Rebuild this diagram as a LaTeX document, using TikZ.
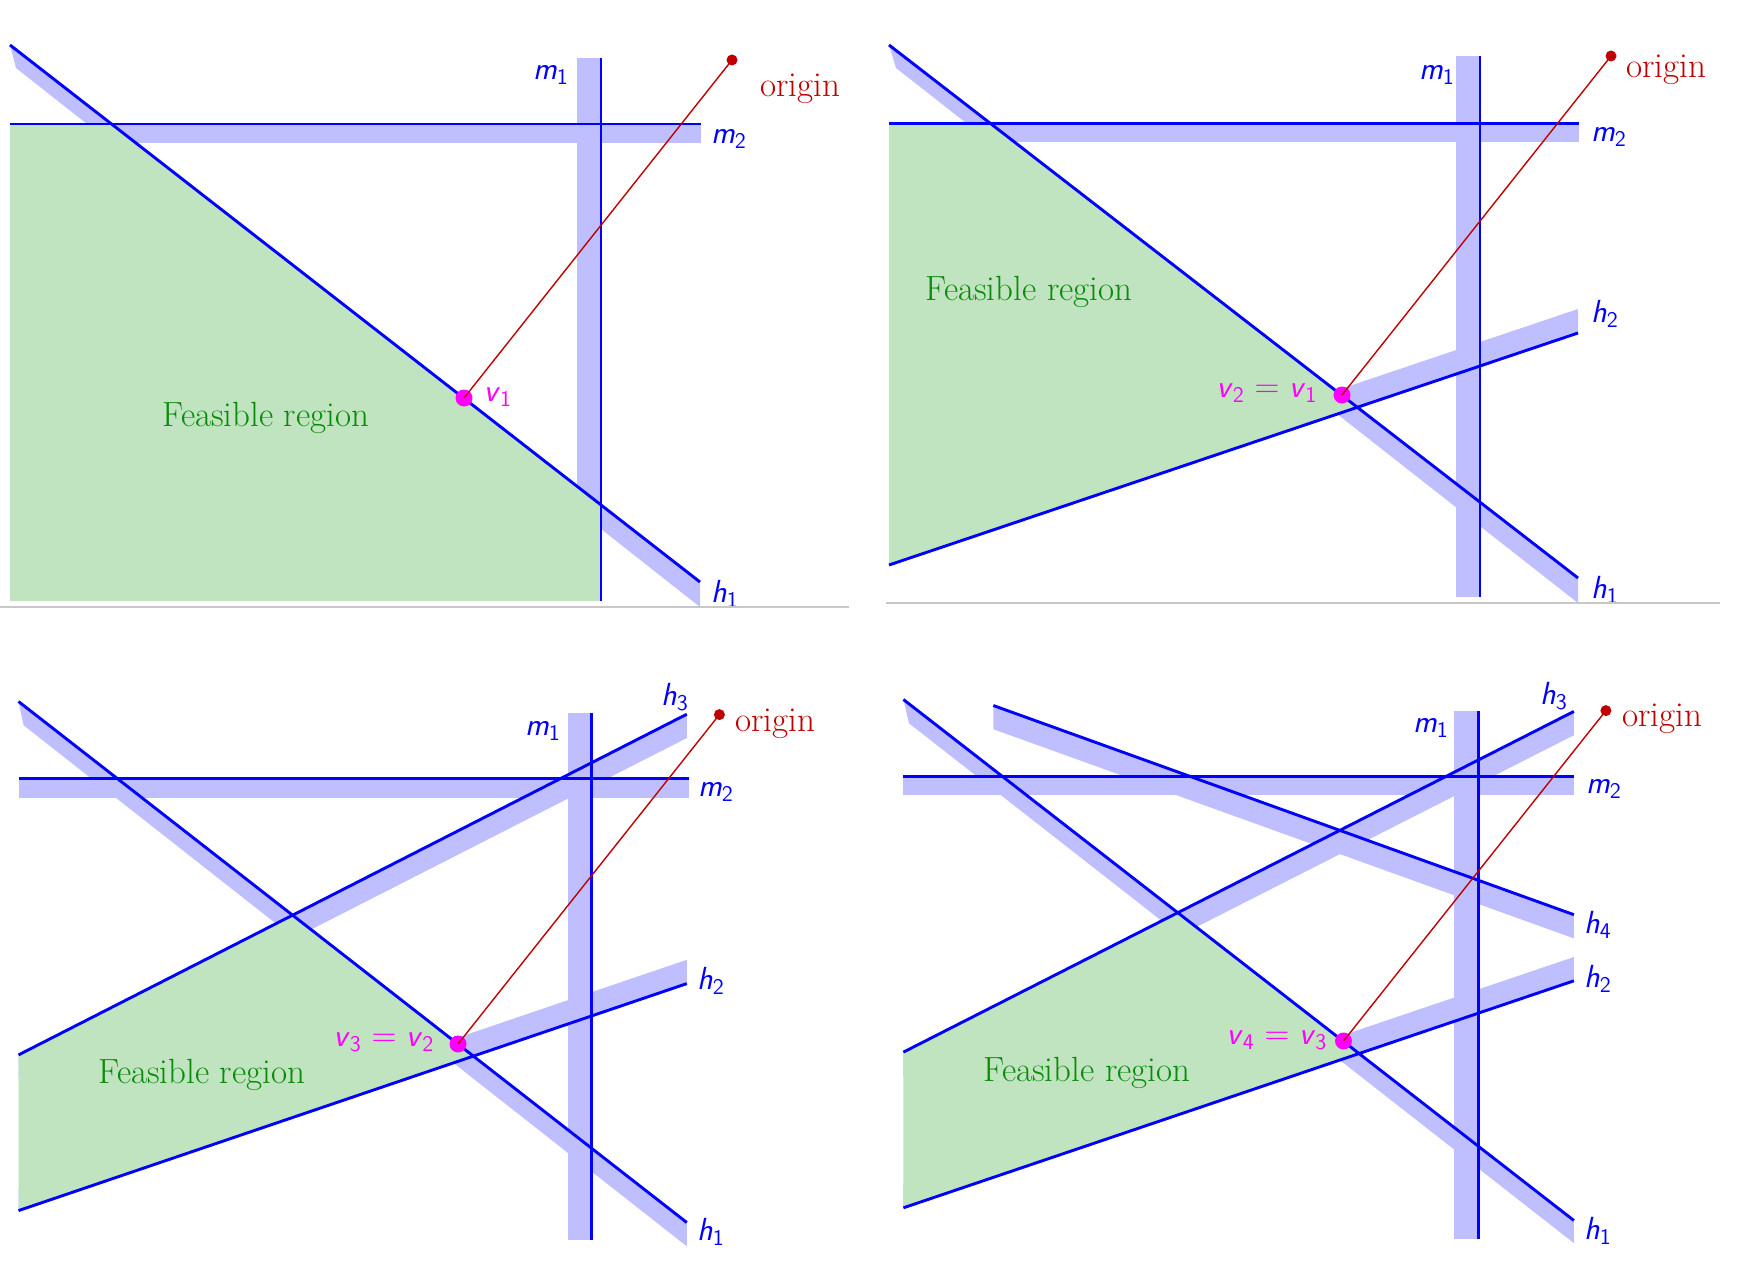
\documentclass[tikz,border=0pt]{standalone}
\usepackage{fontspec}
\definecolor{bandc}{RGB}{191,191,255}
\definecolor{feas}{RGB}{192,228,192}
\definecolor{feastext}{RGB}{10,140,10}
\definecolor{origc}{RGB}{192,0,0}
\definecolor{sepc}{RGB}{200,200,200}
\definecolor{vmag}{RGB}{255,0,255}
\newcommand{\mlab}[2]{\textsf{\textit{#1}}\textsubscript{\textsf{#2}}}
\tikzset{
  bandfill/.style={fill=bandc, draw=none},
  feasfill/.style={fill=feas, draw=none},
  bline/.style={draw=blue, line width=1.45pt},
  rline/.style={draw=origc, line width=0.7pt},
  odot/.style={circle, fill=origc, inner sep=0pt, minimum size=5.5pt},
  vdot/.style={circle, fill=vmag, inner sep=0pt, minimum size=8.5pt},
  lbl/.style={text=blue, inner sep=0pt, font=\fontsize{16}{19}\selectfont},
  vlbl/.style={text=vmag, inner sep=0pt, font=\fontsize{16}{19}\selectfont},
  olbl/.style={text=origc, inner sep=0pt, font=\fontsize{17.5}{21}\selectfont},
  ftext/.style={text=feastext, inner sep=0pt, font=\fontsize{17.5}{21}\selectfont},
  sepline/.style={draw=sepc, line width=1pt}
}
\begin{document}
\begin{tikzpicture}[x=0.5pt,y=-0.5pt]
\useasboundingbox (0,0) rectangle (1754,1268);

% ================= Panel 1 =================
\coordinate (p1h1a) at (10,45);   \coordinate (p1h1b) at (700,582);
\coordinate (p1m2a) at (10,124);  \coordinate (p1m2b) at (701,124);
\coordinate (p1m1a) at (601,58);  \coordinate (p1m1b) at (601,601);
\fill[bandfill] (10,45) -- (700,582) -- (700,607) -- (16,68) -- cycle;
\fill[bandfill] (10,124) rectangle (701,143);
\fill[bandfill] (577,58) rectangle (601,601);
\fill[feasfill] (10,124) -- (111.5,124) -- (601,505) -- (601,601) -- (10,601) -- cycle;
\draw[bline] (p1h1a) -- (p1h1b);
\draw[bline] (p1m2a) -- (p1m2b);
\draw[bline] (p1m1a) -- (p1m1b);
\node[odot] (p1o) at (732,60) {};
\node[vdot] (p1v) at (464,398) {};
\draw[rline] (p1v.center) -- (p1o.center);
\node[olbl] (p1ol) at (800,89) {origin};
\node[vlbl] (p1vl) at (498,397) {\mlab{v}{1}};
\node[ftext] (p1f) at (266,418) {Feasible region};
\node[lbl] (p1lm1) at (551,75) {\mlab{m}{1}};
\node[lbl] (p1lm2) at (729,139) {\mlab{m}{2}};
\node[lbl] (p1lh1) at (725,594) {\mlab{h}{1}};
\coordinate (p1sa) at (0,607); \coordinate (p1sb) at (849,607);
\draw[sepline] (p1sa) -- (p1sb);

% ================= Panel 2 =================
\coordinate (p2h1a) at (889,45);   \coordinate (p2h1b) at (1578,578);
\coordinate (p2m2a) at (889,123.5); \coordinate (p2m2b) at (1579,123.5);
\coordinate (p2m1a) at (1480,56);  \coordinate (p2m1b) at (1480,597);
\coordinate (p2h2a) at (889,565);  \coordinate (p2h2b) at (1578,333);
\fill[bandfill] (889,45) -- (1578,578) -- (1578,603) -- (896,68) -- cycle;
\fill[bandfill] (889,123.5) rectangle (1579,142);
\fill[bandfill] (1456,56) rectangle (1480,597);
\fill[bandfill] (889,565) -- (1578,333) -- (1578,309) -- (889,541) -- cycle;
\fill[feasfill] (889,123.5) -- (990.5,123.5) -- (1358,407.6) -- (889,565) -- cycle;
\draw[bline] (p2h1a) -- (p2h1b);
\draw[bline] (p2m2a) -- (p2m2b);
\draw[bline] (p2m1a) -- (p2m1b);
\draw[bline] (p2h2a) -- (p2h2b);
\node[odot] (p2o) at (1611,56) {};
\node[vdot] (p2v) at (1342,395) {};
\draw[rline] (p2v.center) -- (p2o.center);
\node[olbl] (p2ol) at (1666,70) {origin};
\node[vlbl] (p2vl) at (1267,393) {\mlab{v}{2} $=$ \mlab{v}{1}};
\node[ftext] (p2f) at (1029,292) {Feasible region};
\node[lbl] (p2lm1) at (1437,75) {\mlab{m}{1}};
\node[lbl] (p2lm2) at (1609,137) {\mlab{m}{2}};
\node[lbl] (p2lh2) at (1605,314) {\mlab{h}{2}};
\node[lbl] (p2lh1) at (1605,590) {\mlab{h}{1}};
\coordinate (p2sa) at (886,603); \coordinate (p2sb) at (1720,603);
\draw[sepline] (p2sa) -- (p2sb);

% ================= Panel 3 =================
\coordinate (p3h1a) at (18.5,701.5);  \coordinate (p3h1b) at (686.8,1222.5);
\coordinate (p3m2a) at (18.5,778.8);  \coordinate (p3m2b) at (688.5,778.8);
\coordinate (p3m1a) at (591.8,713.4); \coordinate (p3m1b) at (591.8,1240.3);
\coordinate (p3h2a) at (18.5,1210.6); \coordinate (p3h2b) at (686.8,983.6);
\coordinate (p3h3a) at (18.5,1054.9); \coordinate (p3h3b) at (686.8,714.2);
\fill[bandfill] (18.5,701.5) -- (686.8,1222.5) -- (686.8,1246.3) -- (23.6,725.3) -- cycle;
\fill[bandfill] (18.5,778.8) rectangle (688.5,797.8);
\fill[bandfill] (567.6,713.4) rectangle (591.8,1240.3);
\fill[bandfill] (18.5,1210.6) -- (686.8,983.6) -- (686.8,959.8) -- (18.5,1186.8) -- cycle;
\fill[bandfill] (18.5,1054.9) -- (686.8,714.2) -- (686.8,738) -- (18.5,1078.7) -- cycle;
\fill[feasfill] (18.5,1054.9) -- (292.6,915.2) -- (473.3,1056.1) -- (18.5,1210.6) -- cycle;
\draw[bline] (p3h1a) -- (p3h1b);
\draw[bline] (p3m2a) -- (p3m2b);
\draw[bline] (p3m1a) -- (p3m1b);
\draw[bline] (p3h2a) -- (p3h2b);
\draw[bline] (p3h3a) -- (p3h3b);
\node[odot] (p3o) at (719.4,714.6) {};
\node[vdot] (p3v) at (458,1044) {};
\draw[rline] (p3v.center) -- (p3o.center);
\node[olbl] (p3ol) at (775,723.5) {origin};
\node[vlbl] (p3vl) at (384,1042) {\mlab{v}{3} $=$ \mlab{v}{2}};
\node[ftext] (p3f) at (202,1075) {Feasible region};
\node[lbl] (p3lm1) at (543,731) {\mlab{m}{1}};
\node[lbl] (p3lm2) at (716,792) {\mlab{m}{2}};
\node[lbl] (p3lh3) at (675,697) {\mlab{h}{3}};
\node[lbl] (p3lh2) at (711,981) {\mlab{h}{2}};
\node[lbl] (p3lh1) at (711,1232) {\mlab{h}{1}};

% ================= Panel 4 =================
\coordinate (p4h1a) at (903.4,699.5);  \coordinate (p4h1b) at (1573.9,1220.5);
\coordinate (p4m2a) at (903.4,776.8);  \coordinate (p4m2b) at (1573.9,776.8);
\coordinate (p4m1a) at (1478.3,711.4); \coordinate (p4m1b) at (1478.3,1239.2);
\coordinate (p4h2a) at (903.4,1207.8); \coordinate (p4h2b) at (1573.9,980.8);
\coordinate (p4h3a) at (903.4,1052.1); \coordinate (p4h3b) at (1573.9,711.4);
\coordinate (p4h4a) at (993.3,705.5);  \coordinate (p4h4b) at (1573.9,914.7);
\fill[bandfill] (903.4,699.5) -- (1573.9,1220.5) -- (1573.9,1243.1) -- (909,723.3) -- cycle;
\fill[bandfill] (903.4,776.8) rectangle (1573.9,795.4);
\fill[bandfill] (1454.2,711.4) rectangle (1478.3,1239.2);
\fill[bandfill] (903.4,1207.8) -- (1573.9,980.8) -- (1573.9,957) -- (903.4,1184) -- cycle;
\fill[bandfill] (903.4,1052.1) -- (1573.9,711.4) -- (1573.9,735.2) -- (903.4,1075.9) -- cycle;
\fill[bandfill] (993.3,705.5) -- (1573.9,914.7) -- (1573.9,938.4) -- (993.3,729.2) -- cycle;
\fill[feasfill] (903.4,1052.1) -- (1177.8,912.7) -- (1359,1053.5) -- (903.4,1207.8) -- cycle;
\draw[bline] (p4h1a) -- (p4h1b);
\draw[bline] (p4m2a) -- (p4m2b);
\draw[bline] (p4m1a) -- (p4m1b);
\draw[bline] (p4h2a) -- (p4h2b);
\draw[bline] (p4h3a) -- (p4h3b);
\draw[bline] (p4h4a) -- (p4h4b);
\node[odot] (p4o) at (1605.9,710.6) {};
\node[vdot] (p4v) at (1343.5,1041) {};
\draw[rline] (p4v.center) -- (p4o.center);
\node[olbl] (p4ol) at (1662,719) {origin};
\node[vlbl] (p4vl) at (1277,1040) {\mlab{v}{4} $=$ \mlab{v}{3}};
\node[ftext] (p4f) at (1087,1073) {Feasible region};
\node[lbl] (p4lm1) at (1431,728) {\mlab{m}{1}};
\node[lbl] (p4lm2) at (1604,789) {\mlab{m}{2}};
\node[lbl] (p4lh3) at (1554,696) {\mlab{h}{3}};
\node[lbl] (p4lh4) at (1598,925) {\mlab{h}{4}};
\node[lbl] (p4lh2) at (1598,979) {\mlab{h}{2}};
\node[lbl] (p4lh1) at (1598,1231) {\mlab{h}{1}};
\end{tikzpicture}
\end{document}
